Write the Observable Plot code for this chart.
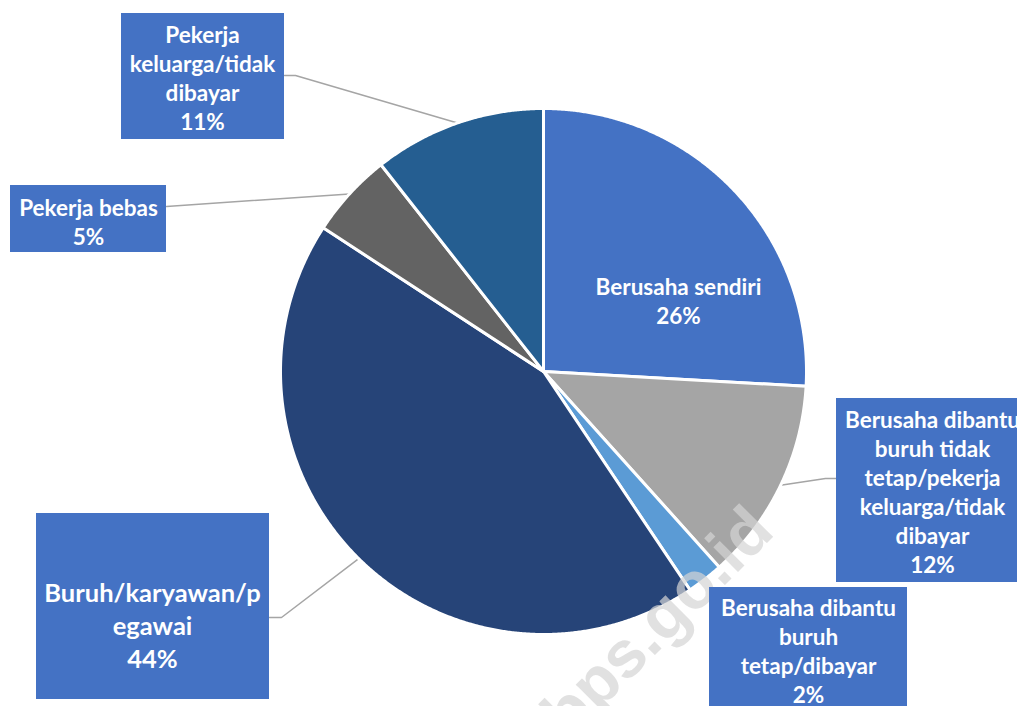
<!DOCTYPE html>
<html><head><meta charset="utf-8">
<script src="https://cdn.jsdelivr.net/npm/d3@7"></script>
<script src="https://cdn.jsdelivr.net/npm/@observablehq/plot@0.6"></script>
<style>html,body{margin:0;padding:0;background:#fff}svg{display:block}</style>
</head><body><div id="chart"></div>
<script>
// ---- data ----
const categories = [
  "Berusaha sendiri",
  "Berusaha dibantu buruh tidak tetap/pekerja keluarga/tidak dibayar",
  "Berusaha dibantu buruh tetap/dibayar",
  "Buruh/karyawan/pegawai",
  "Pekerja bebas",
  "Pekerja keluarga/tidak dibayar"
];
const values = [25.9, 12.45, 2.25, 43.6, 5.2, 10.6];
// label text as wrapped in the chart
const labelLines = [
  ["Berusaha sendiri"],
  ["Berusaha dibantu", "buruh tidak", "tetap/pekerja", "keluarga/tidak", "dibayar"],
  ["Berusaha dibantu", "buruh", "tetap/dibayar"],
  ["Buruh/karyawan/p", "egawai"],
  ["Pekerja bebas"],
  ["Pekerja", "keluarga/tidak", "dibayar"]
];
const sliceColors = ["#4472C4", "#A5A5A5", "#5B9BD5", "#264478", "#636363", "#255E91"];
const watermark = "bps.go.id";

// ---- layout ----
const W = 1017, H = 706, cx = 543, cy = 371, R = 263;
const layout = [
  {box: null, tx: 678, ty: 300, fs: 22.5, elbow: null},
  {box: [836, 398, 1030, 582], tx: 932, ty: 491, fs: 22.5, elbow: [825, 478], start: [836, 478]},
  {box: [709, 587, 907, 712], tx: 808, ty: 650, fs: 22.5, elbow: null},
  {box: [36, 513, 269, 699], tx: 152, ty: 624, fs: 25.5, elbow: [281, 617], start: [269, 617]},
  {box: [10, 185, 166, 252], tx: 88, ty: 221, fs: 22.5, elbow: null, start: [166, 206]},
  {box: [121, 13, 284, 139], tx: 202, ty: 77, fs: 22.5, elbow: [295, 75], start: [284, 75]}
];

const total = d3.sum(values);
const pie = d3.pie().sort(null).value(d => d)(values);
const pt = (a, r = R) => [cx + r * Math.sin(a), cy - r * Math.cos(a)];

const slices = pie.map((p, i) => {
  const pts = [{x: cx, y: cy}];
  const n = Math.max(2, Math.ceil((p.endAngle - p.startAngle) / 0.005));
  for (let k = 0; k <= n; k++) {
    const a = p.startAngle + (p.endAngle - p.startAngle) * k / n;
    const [x, y] = pt(a);
    pts.push({x, y});
  }
  pts.push({x: cx, y: cy});
  return {pts, color: sliceColors[i]};
});

const labels = categories.map((c, i) => ({
  cat: c,
  text: [...labelLines[i], Math.round(values[i] / total * 100) + "%"].join("\n"),
  ...layout[i]
}));

const boxes = labels.filter(d => d.box).map(d => ({x1: d.box[0], y1: d.box[1], x2: d.box[2], y2: d.box[3]}));

const leaders = [];
labels.forEach((d, i) => {
  if (!d.start) return;
  const mid = (pie[i].startAngle + pie[i].endAngle) / 2;
  const [ex, ey] = pt(mid);
  leaders.push({k: i, x: d.start[0], y: d.start[1]});
  if (d.elbow) leaders.push({k: i, x: d.elbow[0], y: d.elbow[1]});
  leaders.push({k: i, x: ex, y: ey});
});

const font = "Lato, 'Open Sans', sans-serif";
const small = labels.filter(d => d.fs < 24);
const big = labels.filter(d => d.fs >= 24);

const chart = Plot.plot({
  width: W, height: H, margin: 0,
  x: {type: "identity", axis: null},
  y: {type: "identity", axis: null},
  style: {background: "#fff"},
  marks: [
    Plot.line(leaders, {x: "x", y: "y", z: "k", stroke: "#A5A5A5", strokeWidth: 1.5, strokeLinejoin: "miter"}),
    ...slices.map(s => Plot.line(s.pts, {x: "x", y: "y", fill: s.color, stroke: "#fff", strokeWidth: 3, strokeLinejoin: "round"})),
    Plot.text([{x: 657, y: 622, t: watermark}], {x: "x", y: "y", text: "t", rotate: -45, fontSize: 66, fontWeight: "bold", fill: "#d4d4d4", fillOpacity: 0.7, fontFamily: "'Liberation Sans', Arial, sans-serif"}),
    Plot.rect(boxes, {x1: "x1", x2: "x2", y1: "y1", y2: "y2", fill: "#4472C4"}),
    Plot.text(small, {x: "tx", y: "ty", text: "text", fill: "white", fontSize: 22.5, lineHeight: 29 / 22.5, fontWeight: "bold", fontFamily: font}),
    Plot.text(big, {x: "tx", y: "ty", text: "text", fill: "white", fontSize: 25.5, lineHeight: 33 / 25.5, fontWeight: "bold", fontFamily: font})
  ]
});
document.getElementById("chart").appendChild(chart);
</script>
</body></html>
